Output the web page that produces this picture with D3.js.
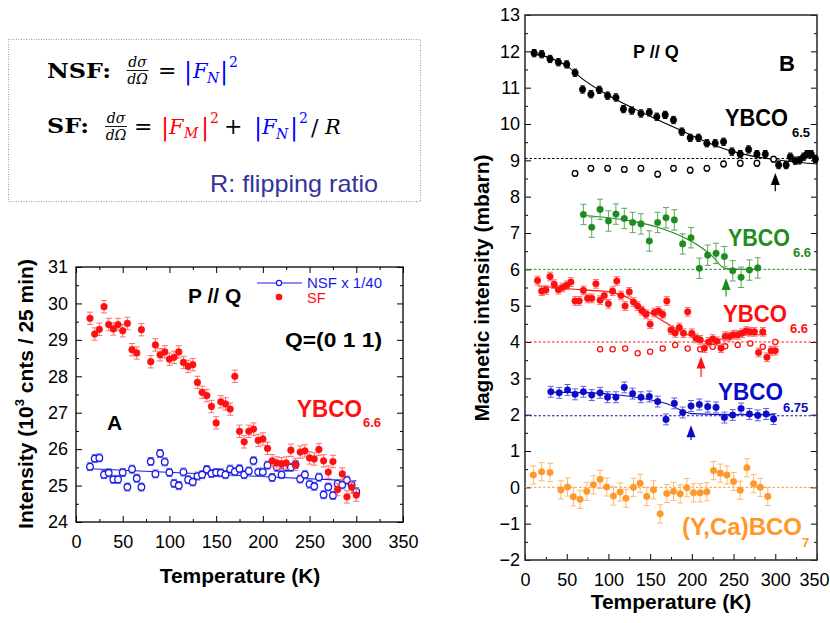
<!DOCTYPE html>
<html><head><meta charset="utf-8">
<script src="https://cdn.jsdelivr.net/npm/d3@7"></script>
<style>body{margin:0;background:#fff}svg{display:block}</style>
</head><body><svg id="c" width="830" height="623"></svg>
<script>
// ---------------- DATA ----------------
const xTicks = [0, 50, 100, 150, 200, 250, 300, 350];
const leftYTicks = [24, 25, 26, 27, 28, 29, 30, 31];
const rightYTicks = [-2, -1, 0, 1, 2, 3, 4, 5, 6, 7, 8, 9, 10, 11, 12, 13];

// Panel A: SF (filled) and NSF x 1/40 (open), intensity 10^3 cnts / 25 min
const sfA = [[15,29.59],[20,29.16],[25,29.29],[30,29.91],[35,29.42],[40,29.3],[45,29.42],[50,29.25],[55,29.45],[60,28.73],[65,28.64],[70,29.28],[80,28.4],[85,28.86],[90,28.59],[95,28.67],[100,28.47],[105,28.52],[110,28.67],[115,28.38],[120,28.27],[125,28.32],[130,27.83],[135,27.56],[140,27.47],[145,27.17],[150,26.72],[155,27.3],[160,27.24],[165,27.1],[170,28.0],[175,26.49],[180,26.2],[185,26.49],[190,26.55],[195,26.24],[200,26.28],[205,26.02],[210,25.68],[215,25.62],[220,25.6],[225,25.62],[230,25.97],[235,25.58],[240,25.92],[245,25.95],[250,25.76],[255,25.73],[260,25.99],[265,25.68],[270,25.37],[275,25.66],[280,24.89],[285,25.32],[290,24.69],[295,24.96],[300,24.74]];
const nsfA = [[15,25.52],[20,25.74],[25,25.76],[30,25.3],[35,25.35],[40,25.17],[45,25.17],[50,25.36],[55,24.96],[60,25.45],[65,25.2],[70,24.96],[80,25.66],[85,25.32],[90,25.88],[95,25.65],[100,25.36],[105,25.06],[110,25.0],[115,25.37],[120,25.16],[125,25.1],[130,25.26],[135,25.3],[140,25.44],[145,25.33],[150,25.36],[155,25.35],[160,25.3],[165,25.45],[170,25.38],[175,25.46],[180,25.3],[185,25.4],[190,25.68],[195,25.37],[200,25.37],[205,25.56],[210,25.22],[215,25.5],[220,25.3],[225,25.5],[230,25.5],[235,25.58],[240,25.18],[245,25.3],[250,25.04],[255,24.98],[260,25.23],[265,24.75],[270,24.96],[275,24.73],[280,25.05],[285,25.02],[290,25.15],[295,25.02],[300,24.83]];
const nsfFitA = [[15,25.46],[300,25.13]];
const sfErrA = 0.17, nsfErrA = 0.11;

// Panel B: magnetic intensity (mbarn), offset curves
const y65 = [[11,11.95],[20,11.92],[30,11.79],[40,11.7],[50,11.64],[60,11.41],[69,10.95],[79,10.82],[89,10.94],[99,10.78],[109,10.73],[118,10.41],[128,10.37],[139,10.29],[149,10.32],[158,10.2],[168,10.25],[178,10.11],[188,9.79],[198,9.62],[208,9.62],[218,9.47],[228,9.47],[238,9.51],[248,9.24],[258,9.17],[268,9.3],[278,9.17],[288,9.17],[304,8.87],[313,8.87],[318,9.1],[324,8.99],[329,9.0],[334,9.1],[338,9.17],[343,9.17],[348,9.04]];
const y65open = [[60,8.64],[79,8.78],[99,8.78],[119,8.75],[139,8.78],[159,8.62],[178,8.78],[198,8.73],[218,8.78],[238,8.9],[258,8.92],[278,8.92],[298,9.03]];
const y65fit = [[10,11.93],[30,11.82],[50,11.6],[70,11.22],[90,10.92],[110,10.66],[130,10.43],[150,10.21],[170,10.0],[190,9.79],[210,9.58],[230,9.39],[250,9.24],[270,9.13],[290,9.05],[310,8.99],[330,8.94],[350,8.9]];
const y66g = [[70,7.51],[80,7.16],[90,7.65],[100,7.33],[109,7.52],[119,7.4],[129,7.29],[139,7.25],[149,6.78],[159,7.29],[169,7.42],[179,7.36],[189,6.7],[199,6.87],[209,6.03],[219,6.39],[229,6.44],[239,6.35],[249,5.96],[259,5.78],[269,5.98],[279,6.04]];
const y66gfit = [[70,7.48],[100,7.42],[130,7.32],[160,7.15],[190,6.88],[210,6.62],[225,6.35],[240,6.02],[260,6.0],[280,6.0]];
const y66r = [[15,5.69],[20,5.4],[25,5.43],[30,5.8],[35,5.59],[40,5.44],[45,5.5],[50,5.56],[55,5.65],[60,5.13],[65,5.13],[70,5.42],[75,5.2],[80,5.2],[85,5.6],[90,5.15],[95,5.28],[100,5.05],[105,5.4],[110,5.68],[115,5.28],[120,4.99],[125,5.38],[130,5.1],[135,4.99],[140,4.86],[145,4.76],[150,4.49],[155,4.81],[160,4.85],[165,4.76],[170,5.13],[175,4.33],[180,4.25],[185,4.4],[190,4.24],[195,4.83],[200,4.24],[205,4.1],[210,4.06],[215,3.83],[220,4.0],[225,4.08],[230,4.02],[235,3.83],[240,4.16],[245,4.15],[250,4.2],[255,4.2],[260,4.24],[265,4.3],[270,4.28],[275,4.28],[280,3.71],[285,4.28],[290,3.58],[295,3.76],[300,3.76]];
const y66ropen = [[90,3.8],[105,3.8],[120,3.82],[135,3.69],[150,3.73],[165,3.82],[180,3.92],[195,3.82],[210,3.8],[225,3.87],[240,3.88],[255,3.92],[270,3.96],[285,3.87],[300,4.0]];
const y66rfit = [[15,5.55],[60,5.45],[100,5.38],[125,5.2],[150,4.8],[175,4.45],[195,4.2],[215,4.02],[240,4.1],[270,4.2],[290,4.2]];
const y675 = [[31,2.63],[41,2.6],[51,2.68],[60,2.56],[70,2.63],[80,2.54],[90,2.6],[99,2.48],[109,2.48],[119,2.75],[129,2.58],[139,2.48],[149,2.5],[159,2.36],[169,1.87],[179,2.31],[189,2.06],[199,2.24],[209,2.28],[219,2.22],[229,2.2],[239,1.92],[249,1.99],[259,2.17],[269,2.02],[279,1.98],[289,2.02],[298,1.88]];
const y675fit = [[30,2.62],[80,2.6],[110,2.55],[140,2.45],[170,2.3],[200,2.03],[250,2.0],[300,2.0]];
const yca7 = [[10,0.34],[20,0.43],[30,0.41],[43,-0.07],[51,0.01],[58,-0.26],[66,-0.33],[74,-0.11],[82,0.07],[90,0.22],[98,0.01],[106,-0.24],[114,-0.13],[121,-0.3],[130,0.0],[138,0.11],[146,-0.25],[154,-0.07],[162,-0.73],[170,-0.17],[178,-0.11],[186,-0.18],[194,-0.01],[202,-0.15],[210,-0.15],[218,-0.12],[226,0.46],[234,0.39],[242,0.34],[250,0.16],[258,-0.08],[266,0.54],[274,0.1],[282,0.0],[291,-0.25]];
const baselines = [9.05, 6.0, 4.0, 1.97, 0.0];
const arrowsB = [[300,8.65,8.15],[241,5.76,5.25],[211,3.6,3.04],[199,1.71,1.3]];

// ---------------- DRAWING ----------------
const svg = d3.select("#c");
const SANS = '"Liberation Sans", Arial, Helvetica, sans-serif';
const SERIF = '"DejaVu Serif", "Liberation Serif", serif';
const C = {red:"#ff1010", redE:"#ff7070", blueA:"#1a1ae6", blueAE:"#6a6aee",
  green:"#1e8c1e", greenE:"#5aaa5a", blueB:"#0b0bc8", blueBE:"#6060dd",
  orange:"#ff982a", orangeE:"#ffb870", navy:"#33339a"};

function axes(g, x, y, o) {
  const [x0, x1] = x.range(), [y0, y1] = y.range();
  const style = s => { s.select(".domain").remove();
    s.selectAll("line").attr("stroke", "#000").attr("stroke-width", 1);
    s.attr("font-family", SANS).attr("font-size", 18).selectAll("text").attr("fill", "#000"); };
  const fmt = d3.format("d");
  g.append("g").attr("transform", `translate(0,${y0})`)
    .call(d3.axisBottom(x).tickValues(xTicks).tickFormat(fmt).tickSize(-6).tickPadding(o.xPad)).call(style);
  g.append("g").attr("transform", `translate(0,${y0})`)
    .call(d3.axisBottom(x).tickValues(o.xMinor).tickSize(-3).tickFormat("")).call(style);
  g.append("g").attr("transform", `translate(${x0},0)`)
    .call(d3.axisLeft(y).tickValues(o.yTicks).tickFormat(fmt).tickSize(-6).tickPadding(o.yPad)).call(style);
  g.append("g").attr("transform", `translate(${x0},0)`)
    .call(d3.axisLeft(y).tickValues(o.yMinor).tickSize(-3).tickFormat("")).call(style);
  g.append("g").attr("transform", `translate(${x1},0)`)
    .call(d3.axisRight(y).tickValues(o.yTicks).tickSize(-6).tickFormat("")).call(style);
  g.append("g").attr("transform", `translate(${x1},0)`)
    .call(d3.axisRight(y).tickValues(o.yMinor).tickSize(-3).tickFormat("")).call(style);
  if (o.top) {
    g.append("g").attr("transform", `translate(0,${y1})`)
      .call(d3.axisTop(x).tickValues(xTicks).tickSize(-6).tickFormat("")).call(style);
    g.append("g").attr("transform", `translate(0,${y1})`)
      .call(d3.axisTop(x).tickValues(o.xMinor).tickSize(-3).tickFormat("")).call(style);
  }
  g.append("rect").attr("x", x0).attr("y", y1).attr("width", x1 - x0).attr("height", y0 - y1)
    .attr("fill", "none").attr("stroke", o.frame || "#000").attr("stroke-width", o.fw || 1.3);
}

function errPts(g, x, y, data, err, o) {
  const eg = g.append("g").attr("stroke", o.ec).attr("stroke-width", 1).attr("fill", "none");
  const cap = o.cap || 3;
  data.forEach(d => {
    const cx = x(d[0]), ya = y(d[1] - err), yb = y(d[1] + err);
    eg.append("line").attr("x1", cx).attr("x2", cx).attr("y1", ya).attr("y2", yb);
    eg.append("line").attr("x1", cx - cap).attr("x2", cx + cap).attr("y1", ya).attr("y2", ya);
    eg.append("line").attr("x1", cx - cap).attr("x2", cx + cap).attr("y1", yb).attr("y2", yb);
  });
  pts(g, x, y, data, o);
}
function pts(g, x, y, data, o) {
  g.append("g").selectAll("circle").data(data).enter().append("circle")
    .attr("cx", d => x(d[0])).attr("cy", d => y(d[1])).attr("r", o.r || 3.2)
    .attr("fill", o.open ? "#fff" : o.c).attr("stroke", o.c).attr("stroke-width", o.open ? 1.3 : 0.4);
}
function fit(g, x, y, data, c, curve) {
  g.append("path").datum(data).attr("fill", "none").attr("stroke", c).attr("stroke-width", 1.1)
    .attr("d", d3.line().x(d => x(d[0])).y(d => y(d[1])).curve(curve || d3.curveMonotoneX));
}
function txt(g, x, y, s, o) {
  const t = g.append("text").attr("x", x).attr("y", y).text(s)
    .attr("font-family", o.ff || SANS).attr("font-size", o.fs).attr("fill", o.c || "#000")
    .attr("font-weight", o.fw || "bold");
  if (o.fi) t.attr("font-style", "italic");
  if (o.anchor) t.attr("text-anchor", o.anchor);
  if (o.len) t.attr("textLength", o.len).attr("lengthAdjust", "spacingAndGlyphs");
  return t;
}

// ---- Formula box ----
const box = svg.append("g");
box.append("rect").attr("x", 8.5).attr("y", 39.5).attr("width", 412).attr("height", 162)
  .attr("fill", "none").attr("stroke", "#9a9a9a").attr("stroke-width", 1).attr("stroke-dasharray", "1,1.5");
function frac(cx, by) {
  txt(box, cx, by - 6, "dσ", {ff: SERIF, fs: 14, fw: "normal", fi: 1, anchor: "middle"});
  box.append("line").attr("x1", cx - 11).attr("x2", cx + 11).attr("y1", by - 2.5).attr("y2", by - 2.5)
    .attr("stroke", "#000").attr("stroke-width", 0.9);
  txt(box, cx, by + 11, "dΩ", {ff: SERIF, fs: 14, fw: "normal", fi: 1, anchor: "middle"});
}
// row 1
txt(box, 47, 78, "NSF:", {ff: SERIF, fs: 21, len: 64});
frac(137.5, 73);
txt(box, 158, 78, "=", {ff: SERIF, fs: 22, fw: "normal"});
txt(box, 184, 79, "|", {ff: SERIF, fs: 24, fw: "normal", c: "#0000ff"});
txt(box, 193, 78, "F", {ff: SERIF, fs: 21, fw: "normal", fi: 1, c: "#0000ff"});
txt(box, 207, 83, "N", {ff: SERIF, fs: 14, fw: "normal", fi: 1, c: "#0000ff"});
txt(box, 220, 79, "|", {ff: SERIF, fs: 24, fw: "normal", c: "#0000ff"});
txt(box, 229, 67, "2", {ff: SERIF, fs: 14, fw: "normal", c: "#0000ff"});
// row 2
txt(box, 47, 133, "SF:", {ff: SERIF, fs: 21, len: 42});
frac(116, 129);
txt(box, 134, 134, "=", {ff: SERIF, fs: 22, fw: "normal"});
txt(box, 161, 135, "|", {ff: SERIF, fs: 24, fw: "normal", c: "#ff0000"});
txt(box, 169, 134, "F", {ff: SERIF, fs: 21, fw: "normal", fi: 1, c: "#ff0000"});
txt(box, 184, 138, "M", {ff: SERIF, fs: 14, fw: "normal", fi: 1, c: "#ff0000"});
txt(box, 201, 135, "|", {ff: SERIF, fs: 24, fw: "normal", c: "#ff0000"});
txt(box, 210, 123, "2", {ff: SERIF, fs: 14, fw: "normal", c: "#ff0000"});
txt(box, 224, 134, "+", {ff: SERIF, fs: 22, fw: "normal"});
txt(box, 254, 135, "|", {ff: SERIF, fs: 24, fw: "normal", c: "#0000ff"});
txt(box, 262, 134, "F", {ff: SERIF, fs: 21, fw: "normal", fi: 1, c: "#0000ff"});
txt(box, 276, 139, "N", {ff: SERIF, fs: 14, fw: "normal", fi: 1, c: "#0000ff"});
txt(box, 290, 135, "|", {ff: SERIF, fs: 24, fw: "normal", c: "#0000ff"});
txt(box, 299, 123, "2", {ff: SERIF, fs: 14, fw: "normal", c: "#0000ff"});
txt(box, 311, 135, "/", {ff: SERIF, fs: 22, fw: "normal"});
txt(box, 325, 134, "R", {ff: SERIF, fs: 21, fw: "normal", fi: 1});
txt(box, 210, 192, "R: flipping ratio", {fs: 24, fw: "normal", c: C.navy, len: 168});

// ---- Panel A ----
const gA = svg.append("g");
const xA = d3.scaleLinear([0, 350], [76, 403]);
const yA = d3.scaleLinear([24, 31], [522, 267]);
axes(gA, xA, yA, {xPad: 13, yPad: 8, top: true,
  xMinor: d3.range(25, 350, 50), yTicks: leftYTicks, yMinor: d3.range(24.5, 31, 1)});
fit(gA, xA, yA, nsfFitA, C.blueA, d3.curveLinear);
errPts(gA, xA, yA, nsfA, nsfErrA, {c: C.blueA, ec: C.blueAE, open: true, r: 3.3});
errPts(gA, xA, yA, sfA, sfErrA, {c: C.red, ec: C.redE, r: 3.4});
txt(gA, 240, 583, "Temperature (K)", {fs: 21, anchor: "middle"});
const ylab = txt(gA, 0, 0, "", {fs: 21, anchor: "middle"}).attr("transform", "translate(33,394) rotate(-90)");
ylab.append("tspan").text("Intensity (10");
ylab.append("tspan").text("3").attr("font-size", 13).attr("dy", -9);
ylab.append("tspan").text(" cnts / 25 min)").attr("dy", 9);
txt(gA, 188, 303, "P // Q", {fs: 21});
txt(gA, 285, 347, "Q=(0 1 1)", {fs: 20, len: 97});
txt(gA, 107, 430, "A", {fs: 21});
txt(gA, 297, 417, "YBCO", {fs: 23, c: C.red, len: 65});
txt(gA, 363, 427, "6.6", {fs: 13, c: C.red});
// legend
gA.append("line").attr("x1", 257).attr("x2", 302).attr("y1", 283).attr("y2", 283).attr("stroke", C.blueA).attr("stroke-width", 1.2);
gA.append("circle").attr("cx", 279).attr("cy", 283).attr("r", 2.6).attr("fill", "#fff").attr("stroke", C.blueA).attr("stroke-width", 1.2);
txt(gA, 307, 288, "NSF x 1/40", {fs: 14.5, fw: "normal", c: C.blueA, len: 75});
gA.append("circle").attr("cx", 279).attr("cy", 297).attr("r", 3.3).attr("fill", C.red);
txt(gA, 307, 303, "SF", {fs: 14.5, fw: "normal", c: C.red});

// ---- Panel B ----
const gB = svg.append("g");
const xB = d3.scaleLinear([0, 350], [525, 817]);
const yB = d3.scaleLinear([-2, 13], [560, 15]);
axes(gB, xB, yB, {xPad: 13, yPad: 5, top: false, frame: "#333", fw: 1.6,
  xMinor: d3.range(25, 350, 50), yTicks: rightYTicks, yMinor: d3.range(-1.5, 13, 1)});
gB.selectAll("text").filter(function () { return this.textContent === "350"; }).attr("dx", -3);
const bColors = ["#000", C.green, C.red, C.blueB, C.orange];
baselines.forEach((b, i) => {
  gB.append("line").attr("x1", xB(0)).attr("x2", xB(350)).attr("y1", yB(b)).attr("y2", yB(b))
    .attr("stroke", bColors[i]).attr("stroke-width", 1).attr("stroke-dasharray", "2.5,2");
});
fit(gB, xB, yB, y65fit, "#000");
fit(gB, xB, yB, y66gfit, C.green);
fit(gB, xB, yB, y66rfit, C.red);
fit(gB, xB, yB, y675fit, C.blueB);
errPts(gB, xB, yB, y65open, 0.08, {c: "#000", ec: "#000", open: true, r: 2.8, cap: 2});
errPts(gB, xB, yB, y65, 0.1, {c: "#000", ec: "#000", r: 3.3, cap: 2.2});
errPts(gB, xB, yB, y66g, 0.28, {c: C.green, ec: C.greenE, r: 3.3});
pts(gB, xB, yB, y66ropen, {c: C.red, open: true, r: 2.6});
errPts(gB, xB, yB, y66r, 0.12, {c: C.red, ec: C.redE, r: 3.3});
errPts(gB, xB, yB, y675, 0.15, {c: C.blueB, ec: C.blueBE, r: 3.3});
errPts(gB, xB, yB, yca7, 0.25, {c: C.orange, ec: C.orangeE, r: 3.3});
// arrows
const arrowColors = ["#000", C.green, C.red, C.blueB];
arrowsB.forEach((a, i) => {
  const ax = xB(a[0]), yt = yB(a[1]), yb = yB(a[2]);
  gB.append("line").attr("x1", ax).attr("x2", ax).attr("y1", yt + 8).attr("y2", yb)
    .attr("stroke", arrowColors[i]).attr("stroke-width", 1.2);
  gB.append("path").attr("d", `M${ax},${yt}L${ax - 4.5},${yt + 12}L${ax + 4.5},${yt + 12}Z`)
    .attr("fill", arrowColors[i]);
});
txt(gB, 671, 609, "Temperature (K)", {fs: 21, anchor: "middle"});
txt(gB, 0, 0, "Magnetic intensity (mbarn)", {fs: 21, anchor: "middle"})
  .attr("transform", "translate(489,288) rotate(-90)");
txt(gB, 633, 58, "P // Q", {fs: 18});
txt(gB, 779, 71, "B", {fs: 22});
txt(gB, 725, 126, "YBCO", {fs: 23, len: 63});
txt(gB, 792, 137, "6.5", {fs: 13});
txt(gB, 728, 246, "YBCO", {fs: 23, c: C.green, len: 62});
txt(gB, 793, 257, "6.6", {fs: 13, c: C.green});
txt(gB, 723, 322, "YBCO", {fs: 23, c: C.red, len: 64});
txt(gB, 790, 333, "6.6", {fs: 13, c: C.red});
txt(gB, 718, 400, "YBCO", {fs: 23, c: C.blueB, len: 65});
txt(gB, 783, 412, "6.75", {fs: 13, c: C.blueB});
txt(gB, 682, 535, "(Y,Ca)BCO", {fs: 23, c: C.orange, len: 120});
txt(gB, 802, 547, "7", {fs: 13, c: C.orange});
</script></body></html>
